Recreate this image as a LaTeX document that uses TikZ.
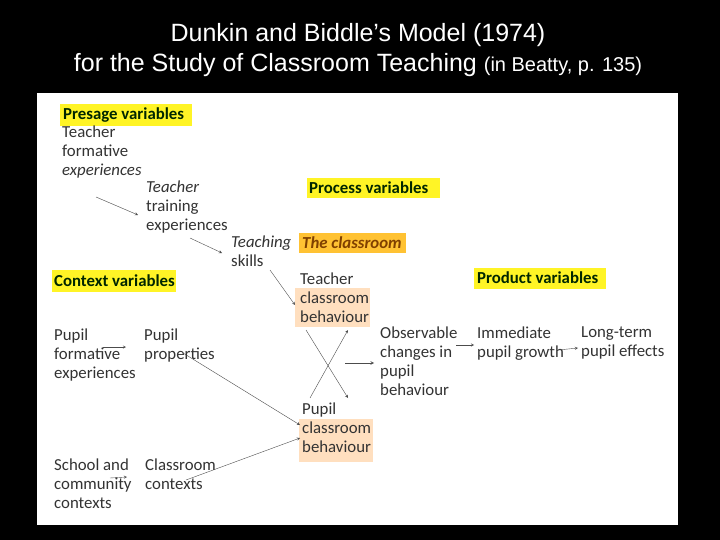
\documentclass[tikz,border=0pt]{standalone}
\usepackage{fontspec}
\setmainfont{Carlito}
\newfontfamily\titlefont{Liberation Sans}
\begin{document}
\begin{tikzpicture}[x=1pt,y=-1pt,
  txt/.style={anchor=north west,align=left,inner sep=0pt,font=\fontsize{16.8}{19}\selectfont,text=black!80},
  hdr/.style={anchor=west,inner sep=0pt,font=\fontsize{16.8}{19}\selectfont\bfseries,text=black!75!green!60!black},
  arr/.style={-stealth,draw=black!70,thin},
  yel/.style={fill=yellow!85!white,draw=none},
  peach/.style={fill=orange!25!white,draw=none}]
\useasboundingbox (0,0) rectangle (720,540);
\fill[black] (0,0) rectangle (720,540);
\fill[white] (37,93) rectangle (678,525);
\node[text=white,font=\titlefont\fontsize{25}{30}\selectfont,align=center] (title) at (358,50)
  {Dunkin and Biddle’s Model (1974)\\for the Study of Classroom Teaching {\fontsize{20}{30}\selectfont(in Beatty, p. 135)}};
% highlights
\fill[yel] (60,104) rectangle (192,126);
\fill[yel] (307,178) rectangle (440,198);
\fill[fill=orange!60!yellow!80!white] (299,233) rectangle (406,253);
\fill[yel] (52,270) rectangle (176,292);
\fill[yel] (474,268) rectangle (606,289);
\fill[peach] (295,288) rectangle (370,327);
\fill[peach] (299,419) rectangle (373,462);
% headers
\node[hdr] (pres) at (63,115) {Presage variables};
\node[hdr] (proc) at (309,188) {Process variables};
\node[hdr,text=orange!50!black,font=\fontsize{16.8}{19}\selectfont\bfseries\itshape] (room) at (302,243) {The classroom};
\node[hdr] (ctx) at (54,281) {Context variables};
\node[hdr] (prod) at (477,278) {Product variables};
% texts
\node[txt] (tfe) at (62,126) {Teacher\\formative\\\textit{experiences}};
\node[txt] (tte) at (146,181) {\textit{Teacher}\\training\\experiences};
\node[txt] (ts) at (231,236) {\textit{Teaching}\\skills};
\node[txt] (tcb) at (300,273) {Teacher\\classroom\\behaviour};
\node[txt] (pfe) at (54,329) {Pupil\\formative\\experiences};
\node[txt] (pp) at (144,329) {Pupil\\properties};
\node[txt] (ocp) at (380,327) {Observable\\changes in\\pupil\\behaviour};
\node[txt] (ipg) at (477,327) {Immediate\\pupil growth};
\node[txt] (ltp) at (581,327) {Long-term\\pupil effects};
\node[txt] (pcb) at (302,403) {Pupil\\classroom\\behaviour};
\node[txt] (scc) at (54,459) {School and\\community\\contexts};
\node[txt] (cc) at (145,459) {Classroom\\contexts};
% connector endpoints
\coordinate (a1) at (96,197); \coordinate (a2) at (138,215);
\coordinate (b1) at (190,238); \coordinate (b2) at (222,253);
\coordinate (c1) at (270,270); \coordinate (c2) at (295,305);
\coordinate (d1) at (103,347); \coordinate (d2) at (126,347);
\coordinate (e1) at (183,353); \coordinate (e2) at (300,425);
\coordinate (f1) at (186,480); \coordinate (f2) at (300,438);
\coordinate (g1) at (110,478); \coordinate (g2) at (127,477);
\coordinate (h1) at (306,330); \coordinate (h2) at (348,398);
\coordinate (i1) at (310,398); \coordinate (i2) at (348,330);
\coordinate (j1) at (345,363); \coordinate (j2) at (374,363);
\coordinate (k1) at (456,345); \coordinate (k2) at (474,345);
\coordinate (l1) at (558,350); \coordinate (l2) at (578,348);
\draw[arr] (a1) -- (a2);
\draw[arr] (b1) -- (b2);
\draw[arr] (c1) -- (c2);
\draw[arr] (d1) -- (d2);
\draw[arr] (e1) -- (e2);
\draw[arr] (f1) -- (f2);
\draw[arr] (g1) -- (g2);
\draw[arr] (h1) -- (h2);
\draw[arr] (i1) -- (i2);
\draw[arr,semithick] (j1) -- (j2);
\draw[arr] (k1) -- (k2);
\draw[arr] (l1) -- (l2);
\end{tikzpicture}
\end{document}
